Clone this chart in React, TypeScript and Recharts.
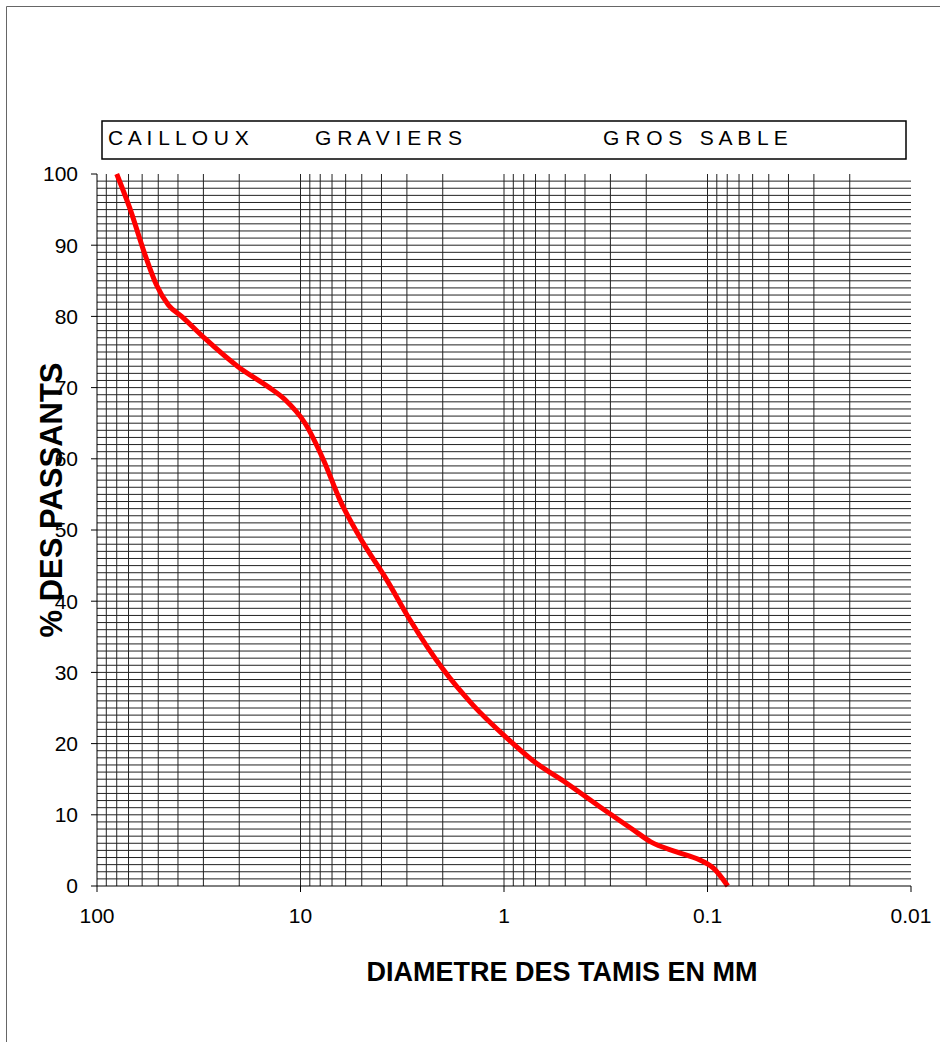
import React from "react";
import { LineChart, Line, XAxis, YAxis, CartesianGrid } from "recharts";

// Sieve diameters (mm) and cumulative % passing
const diameters = [80, 69, 58, 51, 44.6, 38.4, 29.5, 20.2, 14.4, 11.9, 9.5, 7.7, 6.4, 4.9, 3.77, 2.9, 2.0, 1.42, 0.97, 0.72, 0.49, 0.337, 0.232, 0.19, 0.142, 0.109, 0.0935, 0.0795];
const passing = [100, 95.2, 88.6, 84.4, 81.6, 80, 76.9, 72.9, 70.1, 68.3, 65, 59.8, 54.2, 48.1, 43, 37.4, 30.5, 25.4, 20.8, 17.6, 14.4, 11.1, 7.9, 6.2, 4.8, 3.65, 2.5, 0];

const xTicks = [100, 10, 1, 0.1, 0.01];
const xTickLabels = ["100", "10", "1", "0.1", "0.01"];
const yTicks = [0, 10, 20, 30, 40, 50, 60, 70, 80, 90, 100];
const gridDecades = [10, 1, 0.1, 0.01];
const gridMultipliers = [1, 2, 3, 4, 5, 6, 7, 8, 9];
const gridPercents = Array.from({ length: 99 }, (_, i) => i + 1);

const zoneLabels = ["C A I L L O U X", "G R A V I E R S", "G R O S   S A B L E"];
const zoneLabelX = [108, 315, 603];

const yTitle = "% DES PASSANTS";
const xTitle = "DIAMETRE DES TAMIS EN MM";

const data = diameters.map((d, i) => ({ d, p: passing[i] }));
const verticalValues = gridDecades
  .flatMap((dec) => gridMultipliers.map((m) => +(m * dec).toPrecision(6)))
  .filter((v) => v > 0.01 && v < 100);

const font = "'Liberation Sans', Arial, sans-serif";

export default function App() {
  return (
    <div style={{ position: "absolute", left: 0, top: 0, width: 940, height: 1042, background: "#fff", overflow: "hidden" }}>
      <LineChart
        width={940}
        height={1042}
        data={data}
        margin={{ top: 174, right: 29, bottom: 116, left: 37 }}
      >
        <CartesianGrid
          stroke="#222"
          strokeWidth={1}
          horizontalValues={gridPercents}
          verticalValues={verticalValues}
        />
        <XAxis
          dataKey="d"
          type="number"
          scale="log"
          domain={[0.01, 100]}
          reversed
          allowDataOverflow
          ticks={xTicks}
          interval={0}
          height={40}
          tickSize={6}
          tickMargin={16}
          stroke="#000"
          tick={{ fontSize: 21, fill: "#000", fontFamily: font }}
          tickFormatter={(v: number) => xTickLabels[xTicks.indexOf(v)] ?? String(v)}
        />
        <YAxis
          type="number"
          domain={[0, 100]}
          ticks={yTicks}
          interval={0}
          width={60}
          tickSize={6}
          tickMargin={13}
          stroke="#000"
          tick={{ fontSize: 21, fill: "#000", fontFamily: font }}
        />
        <Line
          type="monotone"
          dataKey="p"
          stroke="#ff0000"
          strokeWidth={5}
          dot={false}
          isAnimationActive={false}
        />
      </LineChart>
      <svg
        width={940}
        height={1042}
        style={{ position: "absolute", left: 0, top: 0, pointerEvents: "none" }}
      >
        <path d="M6.5,1042 V6.5 H940" fill="none" stroke="#666" strokeWidth={1} />
        <rect x={102} y={121} width={804} height={38} fill="none" stroke="#000" strokeWidth={1.5} />
        {zoneLabels.map((t, i) => (
          <text
            key={t}
            x={zoneLabelX[i]}
            y={145}
            fontSize={21}
            fontFamily={font}
            fill="#000"
            xmlSpace="preserve"
            style={{ whiteSpace: "pre" }}
          >
            {t}
          </text>
        ))}
        <text
          transform="translate(61.5,500) rotate(-90)"
          textAnchor="middle"
          fontSize={31}
          fontWeight="bold"
          fontFamily={font}
          fill="#000"
        >
          {yTitle}
        </text>
        <text
          x={562}
          y={981}
          textAnchor="middle"
          fontSize={27}
          fontWeight="bold"
          fontFamily={font}
          fill="#000"
        >
          {xTitle}
        </text>
      </svg>
    </div>
  );
}
